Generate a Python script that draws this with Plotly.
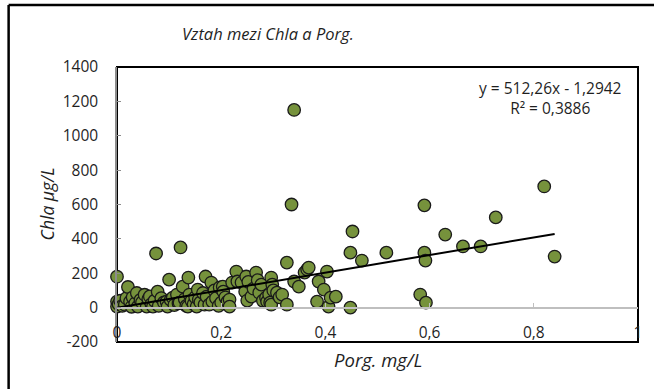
import plotly.graph_objects as go

# Measured samples: organic phosphorus (mg/L) vs chlorophyll-a (µg/L)
porg = [
    0.000, 0.000, 0.000, 0.003, 0.006, 0.010, 0.015, 0.018, 0.021, 0.025,
    0.028, 0.030, 0.035, 0.038, 0.040, 0.045, 0.048, 0.053, 0.057, 0.060,
    0.063, 0.066, 0.069, 0.072, 0.075, 0.078, 0.080, 0.085, 0.090, 0.095,
    0.097, 0.100, 0.103, 0.107, 0.110, 0.115, 0.118, 0.120, 0.122, 0.126,
    0.130, 0.133, 0.136, 0.137, 0.139, 0.143, 0.147, 0.150, 0.153, 0.155,
    0.157, 0.160, 0.165, 0.168, 0.170, 0.172, 0.177, 0.181, 0.183, 0.187,
    0.190, 0.195, 0.197, 0.200,
    0.203, 0.204, 0.208, 0.212, 0.216, 0.216, 0.221, 0.229, 0.231, 0.239,
    0.246, 0.248, 0.250, 0.252, 0.258, 0.262, 0.267, 0.270, 0.273, 0.277,
    0.280, 0.286, 0.288, 0.292, 0.294, 0.296, 0.296, 0.298, 0.300, 0.307,
    0.312, 0.317, 0.326, 0.326, 0.335, 0.340, 0.340, 0.349, 0.360, 0.365,
    0.368, 0.384, 0.387, 0.397, 0.403, 0.406, 0.410, 0.420,
    0.448, 0.452, 0.448, 0.470, 0.517, 0.582, 0.590, 0.590, 0.592, 0.593,
    0.630, 0.664, 0.698, 0.727, 0.820, 0.840,
]
chla = [
    180, 35, 6, 20, 40, 10, 17, 55, 120, 35,
    5, 60, 25, 85, 6, 45, 30, 75, 6, 50,
    65, 20, 6, 40, 315, 93, 10, 55, 30, 35,
    6, 163, 45, 58, 15, 76, 25, 29, 350, 122,
    50, 10, 6, 175, 76, 40, 20, 60, 6, 105,
    47, 30, 85, 17, 181, 64, 17, 146, 35, 100,
    55, 10, 117, 29,
    122, 93, 60, 35, 47, 6, 146, 210, 152, 146,
    93, 181, 41, 150, 64, 110, 204, 160, 87, 134,
    40, 58, 35, 76, 29, 175, 17, 134, 100, 87,
    60, 76, 262, 17, 600, 1150, 152, 122, 204, 222,
    233, 35, 152, 105, 210, 6, 58, 64,
    320, 443, 0, 274, 320, 76, 595, 320, 274, 29,
    425, 356, 356, 525, 705, 297,
]

# Linear trend reported on the chart
slope = 512.26
intercept = -1.2942
r_squared = 0.3886

x_tick_vals = [0, 0.2, 0.4, 0.6, 0.8, 1]
x_tick_text = ["0", "0,2", "0,4", "0,6", "0,8", "1"]
y_tick_vals = [-200, 0, 200, 400, 600, 800, 1000, 1200, 1400]
y_tick_text = ["-200", "0", "200", "400", "600", "800", "1000", "1200", "1400"]

W, H = 654, 389
L, R, T, B = 117, 641, 67, 342  # plot area in pixels


def px_x(p):
    return (p - L) / (R - L)


def px_y(p):
    return (B - p) / (B - T)


FONT = "Open Sans"
TXT = "#1f1f1f"

x_end = max(porg)
trend_x = [0, x_end]
trend_y = [slope * v + intercept for v in trend_x]

fig = go.Figure()
fig.add_trace(go.Scatter(
    x=porg, y=chla, mode="markers", cliponaxis=False,
    marker=dict(size=12.5, color="#76923C", line=dict(color="#1a1a1a", width=1.3)),
    showlegend=False, hoverinfo="x+y",
))
fig.add_trace(go.Scatter(
    x=trend_x, y=trend_y, mode="lines", cliponaxis=False,
    line=dict(color="black", width=2), showlegend=False, hoverinfo="skip",
))

eq_text = (f"y = {slope:.2f}x - {abs(intercept):.4f}".replace(".", ",")
           + "<br>" + f"R² = {r_squared:.4f}".replace(".", ","))


def label(text, x, y, size, angle=0):
    return dict(text=text, xref="paper", yref="paper", x=px_x(x), y=px_y(y),
                xanchor="center", yanchor="middle", showarrow=False,
                textangle=angle, align="center",
                font=dict(family=FONT, size=size, color=TXT))


fig.update_layout(
    width=W, height=H,
    margin=dict(l=L, r=W - R, t=T, b=H - B),
    paper_bgcolor="white", plot_bgcolor="white",
    font=dict(family=FONT, size=15, color=TXT),
    xaxis=dict(
        range=[0, 1], tickvals=x_tick_vals, ticktext=x_tick_text,
        anchor="free", position=200 / 1600,
        showline=True, linecolor="#BFBFBF", linewidth=2,
        ticks="inside", ticklen=4, tickcolor="#BFBFBF", tickwidth=1,
        ticklabelstandoff=11, showgrid=False, zeroline=False,
        tickfont=dict(family=FONT, size=15.5, color=TXT),
    ),
    yaxis=dict(
        range=[-200, 1400], tickvals=y_tick_vals, ticktext=y_tick_text,
        showline=True, linecolor="#8C8C8C", linewidth=1.5,
        ticks="inside", ticklen=4, tickcolor="#8C8C8C", tickwidth=1,
        ticklabelstandoff=14, showgrid=False, zeroline=False,
        tickfont=dict(family=FONT, size=15.5, color=TXT),
    ),
    shapes=[
        # plot-area frame
        dict(type="rect", xref="paper", yref="paper", x0=0, x1=1, y0=0, y1=1,
             line=dict(color="black", width=2), layer="below"),
        # outer chart frame
        dict(type="line", xref="paper", yref="paper",
             x0=px_x(8), x1=px_x(8), y0=px_y(5), y1=px_y(400),
             line=dict(color="black", width=2.5)),
        dict(type="line", xref="paper", yref="paper",
             x0=px_x(8), x1=px_x(700), y0=px_y(5), y1=px_y(5),
             line=dict(color="black", width=2.5)),
    ],
    annotations=[
        label("<i>Vztah mezi Chla a Porg.</i>", 269, 33, 16.5),
        label("<i>Porg. mg/L</i>", 380, 359, 18.5),
        label("<i>Chla µg/L</i>", 47, 204, 17.5, angle=-90),
        label(eq_text, 553, 98, 15.5),
    ],
)

fig.write_html("out.html")
